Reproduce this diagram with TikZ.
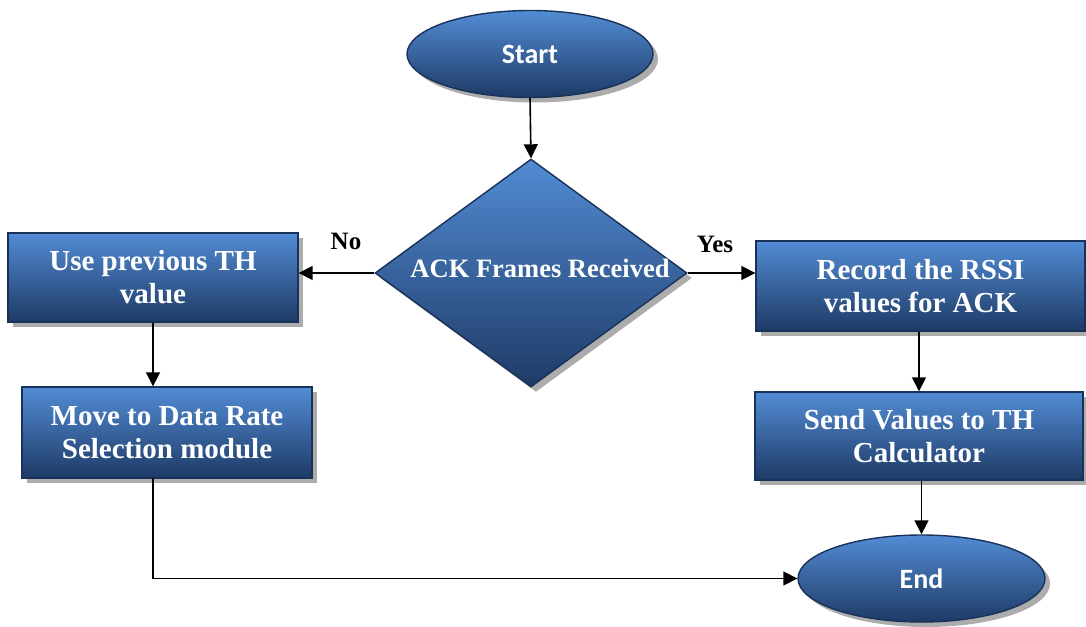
\documentclass[tikz,border=0pt]{standalone}
\usepackage{fontspec}
\setmainfont{Liberation Serif}
\newfontfamily\calfont{Carlito}
\usetikzlibrary{shapes.geometric,arrows.meta,shadows}
\definecolor{topblue}{RGB}{82,140,212}
\definecolor{botblue}{RGB}{30,58,102}
\definecolor{edgeblue}{RGB}{25,50,90}
\tikzset{
  blk/.style={draw=edgeblue, line width=1.4pt, top color=topblue, bottom color=botblue,
    text=white, font=\bfseries\fontsize{29}{33}\selectfont, align=center, inner sep=0pt,
    drop shadow={shadow xshift=5pt, shadow yshift=-5pt, fill=gray!65, opacity=1}},
  boxnode/.style={blk, rectangle},
  ovalnode/.style={blk, ellipse, font=\calfont\bfseries\fontsize{28}{33}\selectfont},
  decnode/.style={blk, diamond},
  conn/.style={line width=1.6pt, -{Triangle[length=14pt,width=14pt]}},
  lbl/.style={font=\bfseries\fontsize{25}{28}\selectfont}
}
\begin{document}
\begin{tikzpicture}[x=1pt,y=-1pt]
\useasboundingbox (0,0) rectangle (1086,626);
\node[ovalnode, minimum width=246, minimum height=87] (start) at (530,54) {Start};
\node[decnode, minimum width=312, minimum height=228] (dec) at (531,273) {};
\node[text=white, font=\bfseries\fontsize{26.5}{30}\selectfont] (dect) at (540,268) {ACK Frames Received};
\node[boxnode, minimum width=290, minimum height=89] (use) at (153,277.5) {Use previous TH\\value};
\node[boxnode, minimum width=329, minimum height=90] (rec) at (920.5,286) {Record the RSSI\\values for ACK};
\node[boxnode, minimum width=290, minimum height=91] (move) at (167,432.5) {Move to Data Rate\\Selection module};
\node[boxnode, minimum width=328, minimum height=88] (send) at (919,436) {Send Values to TH\\Calculator};
\node[ovalnode, minimum width=247, minimum height=87] (end) at (921.5,578.5) {End};
\coordinate (mv) at (153,478);
\draw[conn] (start.south) -- (dec.north);
\draw[conn] (dec.west) -- (dec.west -| use.east);
\draw[conn] (dec.east) -- (dec.east -| rec.west);
\draw[conn] (use.south) -- (use.south |- move.north);
\draw[conn] (rec.south -| send.north) -- (send.north);
\draw[conn] (send.south -| end.north) -- (end.north);
\draw[conn] (mv) |- (end.west);
\node[lbl] (no) at (346,241) {No};
\node[lbl] (yes) at (715,244) {Yes};
\end{tikzpicture}
\end{document}
